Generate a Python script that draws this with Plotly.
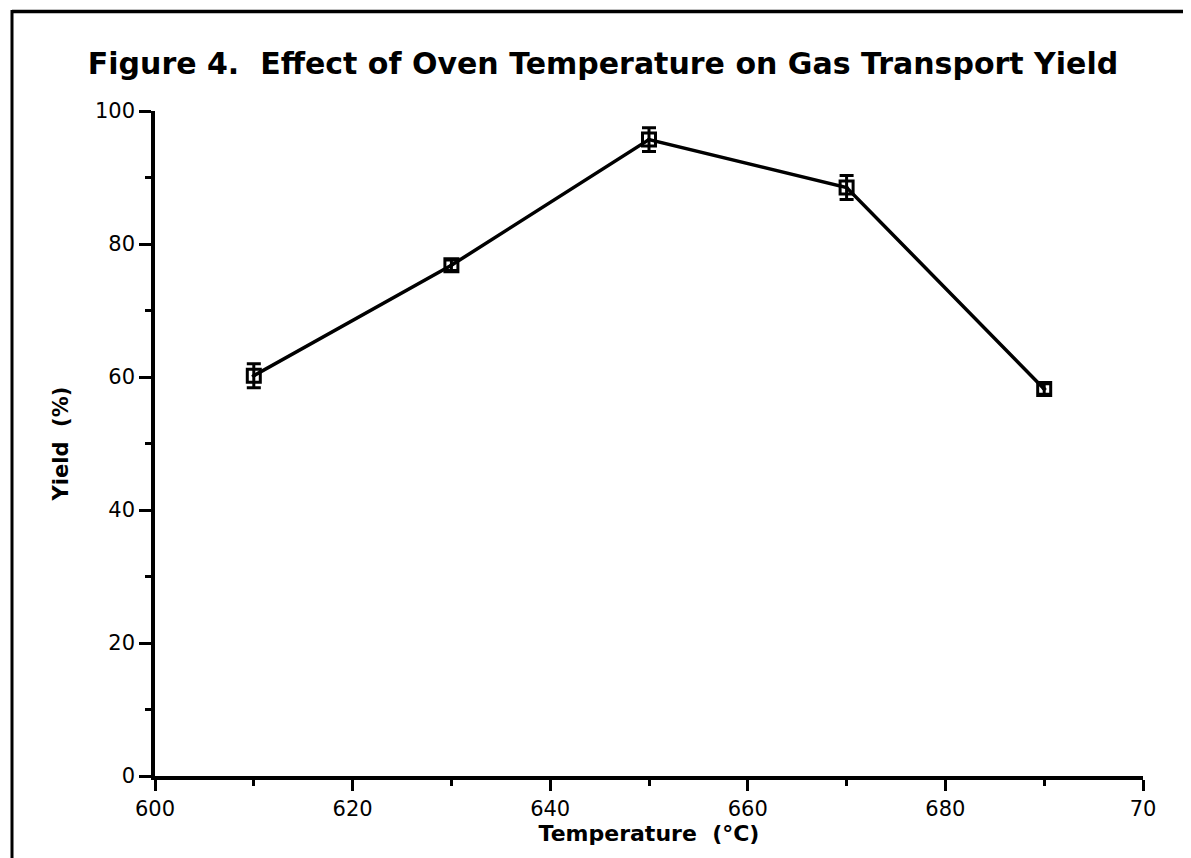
import plotly.graph_objects as go

temperature = [610, 630, 650, 670, 690]
yield_pct = [60.2, 76.8, 95.7, 88.5, 58.2]
yield_err = [1.8, 0.8, 1.8, 1.8, 0.8]

x_tickvals = [600, 620, 640, 660, 680, 700]
x_ticktext = ["600", "620", "640", "660", "680", "70"]
y_tickvals = [0, 20, 40, 60, 80, 100]

FONT = "DejaVu Sans, Verdana, sans-serif"

fig = go.Figure()
fig.add_trace(go.Scatter(
    x=temperature, y=yield_pct,
    mode="lines+markers",
    line=dict(color="black", width=3.5),
    marker=dict(symbol="square-open-dot", size=13, color="black",
                line=dict(color="black", width=3)),
    error_y=dict(type="data", array=yield_err, visible=True,
                 color="black", thickness=3, width=7),
    showlegend=False,
))

W, H = 1183, 850
L, R, T, B = 147, 48, 103, 82
pw, ph = W - L - R, H - T - B

def px2x(px):
    return (px - L) / pw

def py2y(py):
    return (H - B - py) / ph

# scanned page frame
fig.add_shape(type="line", xref="paper", yref="paper",
              x0=px2x(4), x1=px2x(4), y0=py2y(2), y1=py2y(870),
              line=dict(color="black", width=3))
fig.add_shape(type="line", xref="paper", yref="paper",
              x0=px2x(4), x1=px2x(1200), y0=py2y(3.5), y1=py2y(3.5),
              line=dict(color="black", width=3.5))
fig.add_shape(type="line", xref="paper", yref="paper",
              x0=px2x(-10), x1=px2x(-3), y0=py2y(5), y1=py2y(5),
              line=dict(color="black", width=1.5))

fig.update_layout(
    width=W, height=H,
    margin=dict(l=L, r=R, t=T, b=B, autoexpand=False),
    paper_bgcolor="white", plot_bgcolor="white",
    font=dict(family=FONT, color="black", size=21),
    title=dict(text="<b>Figure 4.  Effect of Oven Temperature on Gas Transport Yield</b>",
               x=(603 - 8) / W, xanchor="center", y=1 - (63 - 8) / H, yanchor="middle",
               font=dict(size=30, family=FONT, color="black")),
    xaxis=dict(range=[600, 700], tickvals=x_tickvals, ticktext=x_ticktext,
               showgrid=False, zeroline=False, showline=True, linecolor="black", linewidth=3.5,
               ticks="outside", ticklen=11, tickwidth=3, tickcolor="black",
               minor=dict(tickvals=[610, 630, 650, 670, 690], ticks="outside", ticklen=6,
                          tickwidth=3, tickcolor="black"),
               title=dict(text="<b>Temperature  (°C)</b>", font=dict(size=22, family=FONT), standoff=6),
               tickfont=dict(size=21, family=FONT)),
    yaxis=dict(range=[0, 100], tickvals=y_tickvals,
               showgrid=False, zeroline=False, showline=True, linecolor="black", linewidth=3.5,
               ticks="outside", ticklen=12, tickwidth=3, tickcolor="black",
               minor=dict(tickvals=[10, 30, 50, 70, 90], ticks="outside", ticklen=6,
                          tickwidth=3, tickcolor="black"),
               title=dict(text="<b>Yield  (%)</b>", font=dict(size=21, family=FONT), standoff=22),
               tickfont=dict(size=21, family=FONT)),
)

fig.write_html("out.html")
